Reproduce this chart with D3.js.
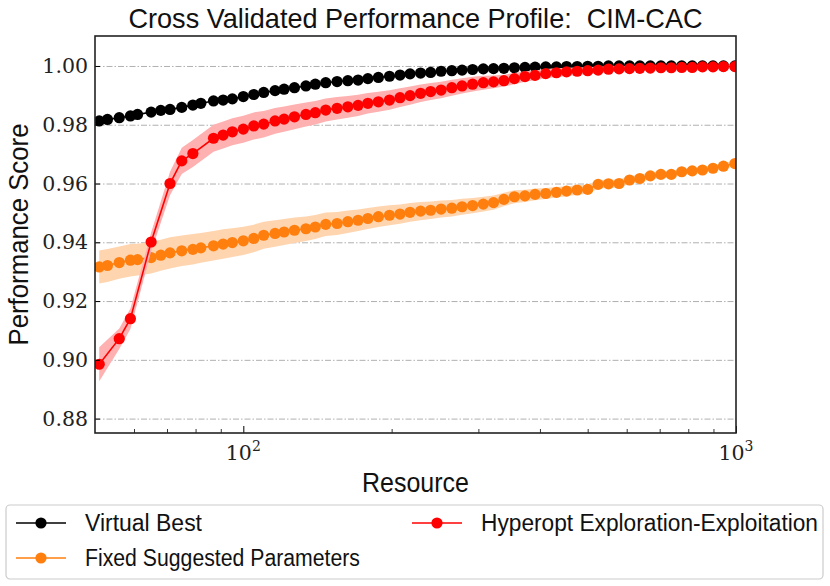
<!DOCTYPE html>
<html>
<head>
<meta charset="utf-8">
<script src="https://cdn.jsdelivr.net/npm/d3@7"></script>
<style>
  body { margin: 0; background: #fff; }
  svg { display: block; }
</style>
</head>
<body>
<div id="chart"></div>
<script>
"use strict";

// Resource values (x) shared by Virtual Best and Fixed Suggested Parameters
var resourceAll = [51, 53, 56, 59, 61, 65, 68, 71, 75, 79, 82, 87, 91, 95, 100, 105,
  110, 116, 121, 127, 134, 140, 147, 155, 163, 171, 179, 188, 198, 208, 218, 229, 240, 252, 265, 278, 292, 307, 322,
  338, 355, 373, 391, 411, 432, 453, 476, 500, 525, 551, 579, 608, 638, 670, 704, 739, 776, 815, 855, 898, 943, 995];

// Hyperopt has fewer points at the start
var resourceHyperopt = [51, 56, 59, 65, 71, 75, 79, 87, 91, 95, 100, 105,
  110, 116, 121, 127, 134, 140, 147, 155, 163, 171, 179, 188, 198, 208, 218, 229, 240, 252, 265, 278, 292, 307, 322,
  338, 355, 373, 391, 411, 432, 453, 476, 500, 525, 551, 579, 608, 638, 670, 704, 739, 776, 815, 855, 898, 943, 995];

var virtualBest = [0.9813, 0.9818, 0.9824, 0.9830, 0.9835, 0.9843, 0.9849, 0.9852, 0.9859, 0.9867, 0.9873, 0.9881, 0.9884, 0.9888, 0.9896, 0.9903,
  0.9910, 0.9916, 0.9921, 0.9926, 0.9932, 0.9938, 0.9943, 0.9947, 0.9950, 0.9952, 0.9957, 0.9961, 0.9965, 0.9969, 0.9973, 0.9976, 0.9978, 0.9982, 0.9984, 0.9986, 0.9988, 0.9990, 0.9991,
  0.9992, 0.9994, 0.9995, 0.9996, 0.9997, 0.9997, 0.9998, 0.9998, 0.9999, 0.9999, 1.0000, 1.0000, 1.0000, 1.0000, 1.0000, 1.0000, 1.0000, 1.0000, 1.0000, 1.0000, 1.0000, 1.0000, 1.0000];

var fixedParams = [0.9316, 0.9321, 0.9331, 0.9339, 0.9341, 0.9348, 0.9356, 0.9364, 0.9371, 0.9376, 0.9381, 0.9388, 0.9394, 0.9399, 0.9405, 0.9413,
  0.9424, 0.9430, 0.9435, 0.9441, 0.9446, 0.9452, 0.9461, 0.9464, 0.9470, 0.9475, 0.9481, 0.9487, 0.9492, 0.9496, 0.9502, 0.9506, 0.9509, 0.9513, 0.9516, 0.9521, 0.9525, 0.9530, 0.9535,
  0.9546, 0.9555, 0.9558, 0.9563, 0.9566, 0.9570, 0.9574, 0.9578, 0.9580, 0.9597, 0.9599, 0.9600, 0.9612, 0.9617, 0.9626, 0.9631, 0.9631, 0.9640, 0.9643, 0.9646, 0.9652, 0.9659, 0.9668];

var fixedParamsStd = [0.0056, 0.0056, 0.0055, 0.0055, 0.0054, 0.0054, 0.0053, 0.0053, 0.0052, 0.0052, 0.0051, 0.0050, 0.0050, 0.0049, 0.0048, 0.0047,
  0.0046, 0.0045, 0.0044, 0.0043, 0.0042, 0.0041, 0.0040, 0.0039, 0.0038, 0.0037, 0.0036, 0.0035, 0.0034, 0.0033, 0.0032, 0.0031, 0.0030, 0.0029, 0.0028, 0.0027, 0.0026, 0.0025, 0.0024,
  0.0023, 0.0022, 0.0021, 0.0020, 0.0019, 0.0018, 0.0017, 0.0016, 0.0015, 0.0015, 0.0014, 0.0014, 0.0013, 0.0013, 0.0012, 0.0012, 0.0011, 0.0011, 0.0010, 0.0010, 0.0010, 0.0010, 0.0010];

var hyperopt = [0.8985, 0.9072, 0.9140, 0.9401, 0.9600, 0.9677, 0.9702, 0.9754, 0.9765, 0.9776, 0.9785, 0.9796,
  0.9802, 0.9813, 0.9819, 0.9827, 0.9835, 0.9841, 0.9850, 0.9856, 0.9861, 0.9866, 0.9873, 0.9878, 0.9884, 0.9892, 0.9899, 0.9907, 0.9913, 0.9918, 0.9926, 0.9932, 0.9938, 0.9943, 0.9946,
  0.9950, 0.9957, 0.9964, 0.9968, 0.9974, 0.9977, 0.9980, 0.9982, 0.9984, 0.9986, 0.9989, 0.9990, 0.9991, 0.9992, 0.9993, 0.9994, 0.9994, 0.9995, 0.9995, 0.9997, 0.9997, 0.9998, 0.9998];

var hyperoptStd = [0.0058, 0.0035, 0.0035, 0.0032, 0.0040, 0.0045, 0.0046, 0.0046, 0.0046, 0.0046, 0.0046, 0.0046,
  0.0045, 0.0044, 0.0043, 0.0042, 0.0041, 0.0040, 0.0039, 0.0038, 0.0037, 0.0036, 0.0035, 0.0034, 0.0033, 0.0032, 0.0031, 0.0030, 0.0029, 0.0028, 0.0027, 0.0026, 0.0025, 0.0024, 0.0022,
  0.0020, 0.0019, 0.0018, 0.0017, 0.0016, 0.0015, 0.0014, 0.0013, 0.0012, 0.0011, 0.0010, 0.0010, 0.0009, 0.0009, 0.0008, 0.0008, 0.0008, 0.0007, 0.0007, 0.0007, 0.0006, 0.0006, 0.0006];

var yTicks = [0.88, 0.90, 0.92, 0.94, 0.96, 0.98, 1.00];
var xMajorTicks = [100, 1000];
var xMinorTicks = [60, 70, 80, 90, 200, 300, 400, 500, 600, 700, 800, 900];

var titleText = "Cross Validated Performance Profile:  CIM-CAC";
var legendNames = ["Virtual Best", "Fixed Suggested Parameters", "Hyperopt Exploration-Exploitation"];

var larg = 830, haut = 586;
var plotLeft = 95, plotRight = 736, plotTop = 36, plotBottom = 433;
var sansFont = "'Liberation Sans', Arial, sans-serif";
var serifFont = "'DejaVu Serif', serif";

var svg = d3.select("#chart").append("svg")
  .attr("width", larg)
  .attr("height", haut);

var x = d3.scaleLog().domain([50, 1000]).range([plotLeft, plotRight]);
var y = d3.scaleLinear().domain([0.8751, 1.0102]).range([plotBottom, plotTop]);

// taille de police fixee par la hauteur, largeur imposee (police etroite type LaTeX sans)
function fitWidth(sel, target) {
  sel.attr("textLength", target).attr("lengthAdjust", "spacingAndGlyphs");
}

svg.append("defs").append("clipPath").attr("id", "plotclip")
  .append("rect").attr("x", plotLeft).attr("y", plotTop)
  .attr("width", plotRight - plotLeft).attr("height", plotBottom - plotTop);

// Grille horizontale
svg.append("g")
  .attr("transform", "translate(" + plotLeft + ",0)")
  .call(d3.axisLeft(y).tickValues(yTicks).tickSize(-(plotRight - plotLeft)).tickFormat(""))
  .call(function(g) {
    g.select(".domain").remove();
    g.selectAll("line").attr("stroke", "#b0b0b0").attr("stroke-width", 1)
      .attr("stroke-dasharray", "6,2,1.5,2");
  });

function makeSeries(xs, vs, ss) {
  return xs.map(function(r, i) { return { r: r, v: vs[i], s: ss ? ss[i] : 0 }; });
}

var series = [
  { name: legendNames[0], color: "#000000", band: null, data: makeSeries(resourceAll, virtualBest, null) },
  { name: legendNames[1], color: "#ff7f0e", band: "#ffd5b0", data: makeSeries(resourceAll, fixedParams, fixedParamsStd) },
  { name: legendNames[2], color: "#ff0000", band: "#ffb0b0", data: makeSeries(resourceHyperopt, hyperopt, hyperoptStd) }
];

var area = d3.area()
  .x(function(d) { return x(d.r); })
  .y0(function(d) { return y(d.v - d.s); })
  .y1(function(d) { return y(d.v + d.s); });

var line = d3.line()
  .x(function(d) { return x(d.r); })
  .y(function(d) { return y(d.v); });

var plot = svg.append("g").attr("clip-path", "url(#plotclip)");

series.forEach(function(s) {
  if (s.band) {
    plot.append("path").datum(s.data)
      .attr("d", area)
      .attr("fill", s.band);
  }
  plot.append("path").datum(s.data)
    .attr("d", line)
    .attr("fill", "none")
    .attr("stroke", s.color)
    .attr("stroke-width", 1.6);
  plot.selectAll(null).data(s.data).enter()
    .append("circle")
    .attr("cx", function(d) { return x(d.r); })
    .attr("cy", function(d) { return y(d.v); })
    .attr("r", 5.6)
    .attr("fill", s.color);
});

// Axe y
svg.append("g")
  .attr("transform", "translate(" + plotLeft + ",0)")
  .call(d3.axisLeft(y).tickValues(yTicks).tickSize(-5).tickPadding(7).tickFormat(d3.format(".2f")))
  .call(function(g) {
    g.select(".domain").remove();
    g.selectAll("line").attr("stroke", "#000").attr("stroke-width", 1);
    g.selectAll("text").attr("font-family", serifFont).attr("font-size", 20.5)
      .attr("fill", "#222");
  });

// Axe x : graduations majeures et mineures vers l'interieur
svg.append("g")
  .attr("transform", "translate(0," + plotBottom + ")")
  .call(d3.axisBottom(x).tickValues(xMajorTicks).tickSize(-7).tickFormat(""))
  .call(function(g) {
    g.select(".domain").remove();
    g.selectAll("line").attr("stroke", "#000").attr("stroke-width", 1);
  });
svg.append("g")
  .attr("transform", "translate(0," + plotBottom + ")")
  .call(d3.axisBottom(x).tickValues(xMinorTicks).tickSize(-4).tickFormat(""))
  .call(function(g) {
    g.select(".domain").remove();
    g.selectAll("line").attr("stroke", "#000").attr("stroke-width", 0.8);
  });

xMajorTicks.forEach(function(v) {
  var t = svg.append("text")
    .attr("x", x(v))
    .attr("y", plotBottom + 27)
    .attr("text-anchor", "middle")
    .attr("font-family", serifFont)
    .attr("font-size", 20.5)
    .attr("fill", "#222");
  t.append("tspan").text("10");
  t.append("tspan").attr("dy", -9).attr("font-size", 14).text(String(Math.round(Math.log10(v))));
});

// Cadre
svg.append("rect")
  .attr("x", plotLeft).attr("y", plotTop)
  .attr("width", plotRight - plotLeft).attr("height", plotBottom - plotTop)
  .attr("fill", "none").attr("stroke", "#222").attr("stroke-width", 1.6);

// Titres
var title = svg.append("text")
  .attr("x", (plotLeft + plotRight) / 2).attr("y", 28)
  .attr("text-anchor", "middle")
  .attr("font-family", sansFont).attr("font-size", 28)
  .attr("fill", "#111")
  .style("white-space", "pre")
  .text(titleText);
fitWidth(title, 574);

var xlab = svg.append("text")
  .attr("x", (plotLeft + plotRight) / 2).attr("y", 492)
  .attr("text-anchor", "middle")
  .attr("font-family", sansFont).attr("font-size", 28)
  .attr("fill", "#111")
  .text("Resource");
fitWidth(xlab, 107);

var ylab = svg.append("text")
  .attr("transform", "translate(28," + ((plotTop + plotBottom) / 2) + ") rotate(-90)")
  .attr("text-anchor", "middle")
  .attr("font-family", sansFont).attr("font-size", 28)
  .attr("fill", "#111")
  .text("Performance Score");
fitWidth(ylab, 222);

// Legende
var legend = svg.append("g");
legend.append("rect")
  .attr("x", 6).attr("y", 505).attr("width", 817).attr("height", 74)
  .attr("rx", 4).attr("fill", "#fff").attr("stroke", "#cccccc").attr("stroke-width", 1.2);

var legendPos = [
  { x: 16, y: 523, w: 117 },
  { x: 16, y: 558, w: 275 },
  { x: 412, y: 523, w: 337 }
];

series.forEach(function(s, i) {
  var p = legendPos[i];
  legend.append("line")
    .attr("x1", p.x).attr("x2", p.x + 50)
    .attr("y1", p.y).attr("y2", p.y)
    .attr("stroke", s.color).attr("stroke-width", 1.6);
  legend.append("circle")
    .attr("cx", p.x + 25).attr("cy", p.y).attr("r", 5.6)
    .attr("fill", s.color);
  var t = legend.append("text")
    .attr("x", p.x + 69).attr("y", p.y + 8)
    .attr("font-family", sansFont).attr("font-size", 23)
    .attr("fill", "#111")
    .text(s.name);
  fitWidth(t, p.w);
});
</script>
</body>
</html>
